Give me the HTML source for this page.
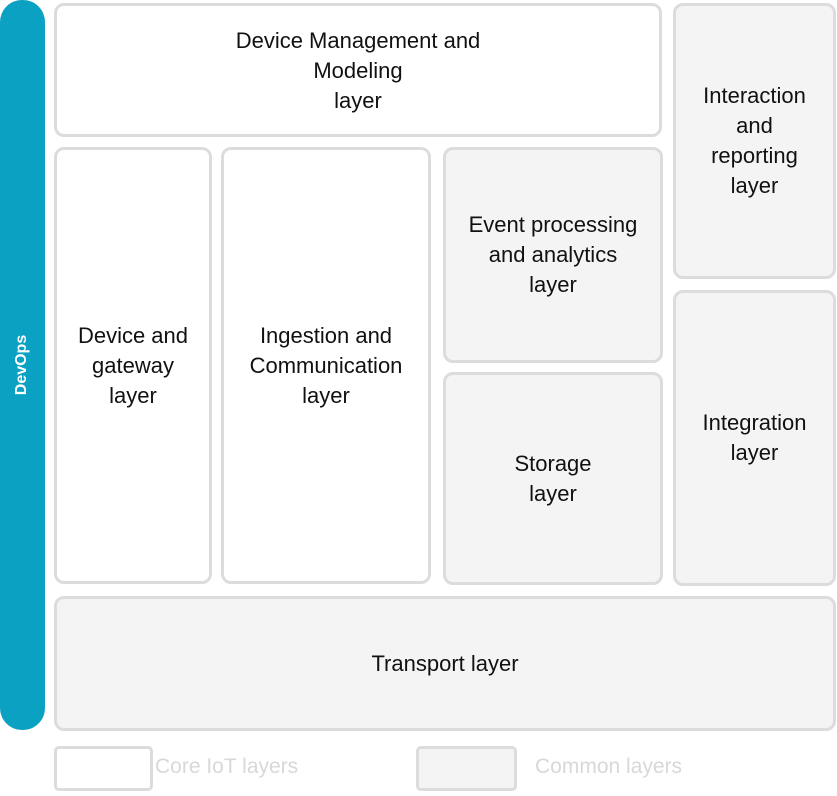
<!DOCTYPE html>
<html><head><style>
body{margin:0;width:837px;height:796px;background:#fff;position:relative;overflow:hidden;font-family:"Liberation Sans",sans-serif;}
.b{position:absolute;box-sizing:border-box;border:3px solid #dcdcdc;border-radius:10px;background:#fff;display:flex;align-items:center;justify-content:center;text-align:center;font-size:22px;line-height:30px;color:#111;}
.g{background:#f4f4f4;}
.dev{position:absolute;left:0;top:0;width:45px;height:730px;background:#0aa1c2;border-radius:22px;}
.dt{position:absolute;left:22px;top:365px;transform:translate(-50%,-50%) rotate(-90deg);color:#fff;font-weight:bold;font-size:16px;white-space:nowrap;}
.l{position:absolute;color:#d8d8d8;font-size:21px;top:755px;}
</style></head><body>
<div class="dev"></div><div class="dt">DevOps</div>
<div class="b" style="left:54px;top:3px;width:608px;height:134px;padding-top:2px;">Device Management and<br>Modeling<br>layer</div>
<div class="b" style="left:54px;top:147px;width:158px;height:437px;">Device and<br>gateway<br>layer</div>
<div class="b" style="left:221px;top:147px;width:210px;height:437px;">Ingestion and<br>Communication<br>layer</div>
<div class="b g" style="left:443px;top:147px;width:220px;height:216px;">Event processing<br>and analytics<br>layer</div>
<div class="b g" style="left:443px;top:372px;width:220px;height:213px;">Storage<br>layer</div>
<div class="b g" style="left:673px;top:3px;width:163px;height:276px;">Interaction<br>and<br>reporting<br>layer</div>
<div class="b g" style="left:673px;top:290px;width:163px;height:296px;">Integration<br>layer</div>
<div class="b g" style="left:54px;top:596px;width:782px;height:135px;">Transport layer</div>
<div class="b" style="left:54px;top:746px;width:99px;height:45px;border-radius:5px;"></div>
<div class="l" style="left:155px;">Core IoT layers</div>
<div class="b g" style="left:416px;top:746px;width:101px;height:45px;border-radius:5px;"></div>
<div class="l" style="left:535px;">Common layers</div>
</body></html>
